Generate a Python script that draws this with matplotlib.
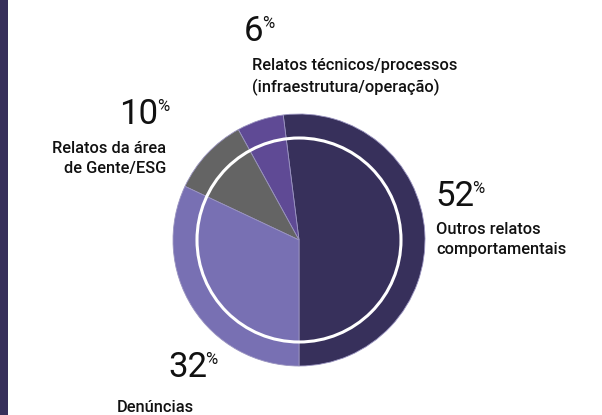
import matplotlib.pyplot as plt
from matplotlib.patches import Circle, Rectangle

plt.rcParams['font.family'] = ['Roboto', 'DejaVu Sans']

# dados
categorias = ['Outros relatos\ncomportamentais',
              'Relatos técnicos/processos\n(infraestrutura/operação)',
              'Relatos da área\nde Gente/ESG',
              'Denúncias']
valores = [52, 6, 10, 32]
cores = ['#37305b', '#5f4a95', '#646464', '#7870b3']

W, H = 602, 415
fig = plt.figure(figsize=(W / 100, H / 100), dpi=100)
ax = fig.add_axes([0, 0, 1, 1])
ax.set_xlim(0, W)
ax.set_ylim(0, H)
ax.set_aspect('equal')
ax.axis('off')


def Y(y):
    # coordenada da imagem (topo = 0) -> eixo
    return H - y


# faixa lateral
ax.add_patch(Rectangle((0, 0), 8, H, color='#37305b', lw=0))

cx, cy, r = 299, 240, 126
ax.pie(valores, colors=cores, startangle=-90, counterclock=True,
       center=(cx, Y(cy)), radius=r,
       wedgeprops=dict(linewidth=0.6, edgecolor='#9a94c0'))
ax.add_patch(Circle((cx, Y(cy)), 102, fill=False, ec='white', lw=2.2))
ax.set_xlim(0, W)
ax.set_ylim(0, H)

renderer = fig.canvas.get_renderer()
preto = '#111111'


def numero(x, y_base, val, ha='left'):
    t = ax.text(x, Y(y_base), str(val), fontsize=25,
                ha=ha, va='baseline', color=preto)
    bb = t.get_window_extent(renderer).transformed(ax.transData.inverted())
    x_pct = bb.x1 - 1.5 if ha == 'left' else x - 1
    ax.text(x_pct, Y(y_base - 25), '%', fontsize=12,
            ha='left', va='top', color=preto)


def rotulo(x, y_ultima, txt, ha='left'):
    # y_ultima = baseline da última linha
    ax.text(x, Y(y_ultima), txt, fontsize=11.8, fontweight='medium',
            ha=ha, va='baseline', color=preto, linespacing=1.4,
            multialignment=ha)


# 52%
numero(435, 206, valores[0])
rotulo(436, 254, categorias[0])

# 6%
numero(244, 41, valores[1])
rotulo(252, 92, categorias[1])

# 10%
numero(158, 124, valores[2], ha='right')
rotulo(166, 173, categorias[2], ha='right')

# 32%
numero(168, 377, valores[3])
rotulo(117, 412, categorias[3])

fig.savefig('out.png', dpi=100)
